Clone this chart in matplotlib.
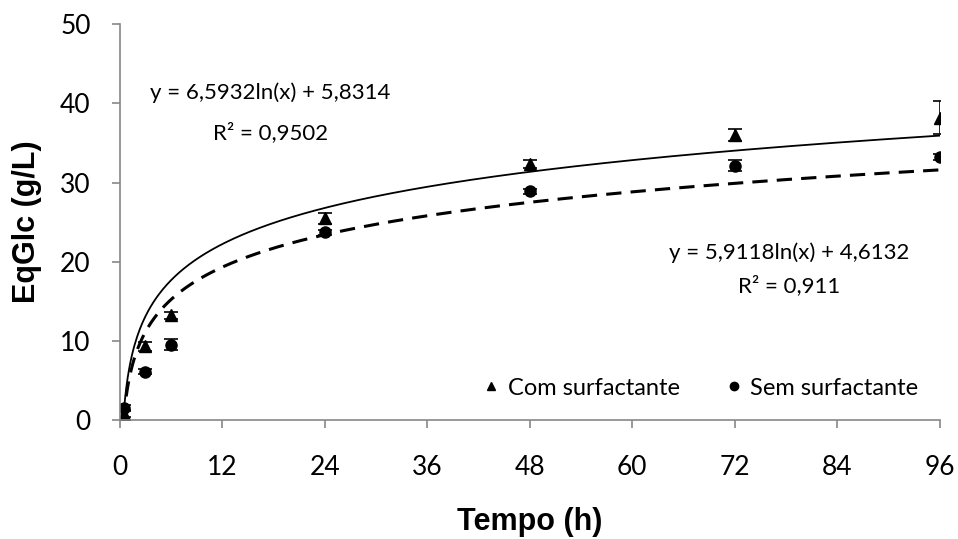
import matplotlib.pyplot as plt
import numpy as np

tempo = [0.5, 3, 6, 24, 48, 72, 96]
com_surf = [0.8, 9.3, 13.2, 25.5, 32.3, 36.0, 38.2]
com_err = [0.4, 0.6, 0.4, 0.7, 0.5, 0.8, 2.1]
sem_surf = [1.5, 6.1, 9.5, 23.7, 28.9, 32.1, 33.2]
sem_err = [0.4, 0.3, 0.7, 0.3, 0.3, 0.7, 0.4]

# coeficientes das linhas de tendencia (log)
a_com, b_com = 6.5932, 5.8314
a_sem, b_sem = 5.9118, 4.6132

plt.rcParams['font.family'] = ['Lato', 'DejaVu Sans']

fig = plt.figure(figsize=(9.58, 5.39), dpi=100)
ax = fig.add_axes([0.125, 0.221, 0.856, 0.734])

xf = np.linspace(0.45, 96, 600)
ax.plot(xf, a_com*np.log(xf) + b_com, color="black", lw=1.3)
ax.plot(xf, a_sem*np.log(xf) + b_sem, color="black", lw=2.2, ls=(0, (5, 3)))

ax.errorbar(tempo, com_surf, yerr=com_err, fmt="^", color="black", ms=8,
            capsize=5, elinewidth=1.2, capthick=1.2, label="Com surfactante")
ax.errorbar(tempo, sem_surf, yerr=sem_err, fmt="o", color="black", ms=8,
            capsize=5, elinewidth=1.2, capthick=1.2, label="Sem surfactante")

fs = 16
ax.text(17.6, 41.3, "y = 6,5932ln(x) + 5,8314", ha="center", va="center", fontsize=fs)
ax.text(17.6, 36.3, "R² = 0,9502", ha="center", va="center", fontsize=fs)
ax.text(78.4, 21.1, "y = 5,9118ln(x) + 4,6132", ha="center", va="center", fontsize=fs)
ax.text(78.4, 17.0, "R² = 0,911", ha="center", va="center", fontsize=fs)

ax.set_xlim(0, 96)
ax.set_ylim(0, 50)
ax.set_xticks(np.arange(0, 97, 12))
ax.set_yticks(np.arange(0, 51, 10))
for s in ["top", "right"]:
    ax.spines[s].set_visible(False)
for s in ["left", "bottom"]:
    ax.spines[s].set_color("#888888")
    ax.spines[s].set_linewidth(1.2)
ax.tick_params(colors="#888888", labelcolor="black", labelsize=19, length=6, width=1.2)
ax.tick_params(axis="x", pad=19)
ax.tick_params(axis="y", pad=15)

ax.set_xlabel("Tempo (h)", fontsize=22, fontweight="bold", family="Liberation Sans", labelpad=20)
ax.set_ylabel("EqGlc (g/L)", fontsize=22, fontweight="bold", family="Liberation Sans", labelpad=13)

handles, labels = ax.get_legend_handles_labels()
handles = [h[0] for h in handles]
ax.legend(handles, labels, ncol=2, loc="lower right", bbox_to_anchor=(1.0, 0.0),
          frameon=False, fontsize=17, markerscale=0.75, handlelength=0.6,
          handletextpad=0.4, columnspacing=2.0)

plt.savefig("out.png")
